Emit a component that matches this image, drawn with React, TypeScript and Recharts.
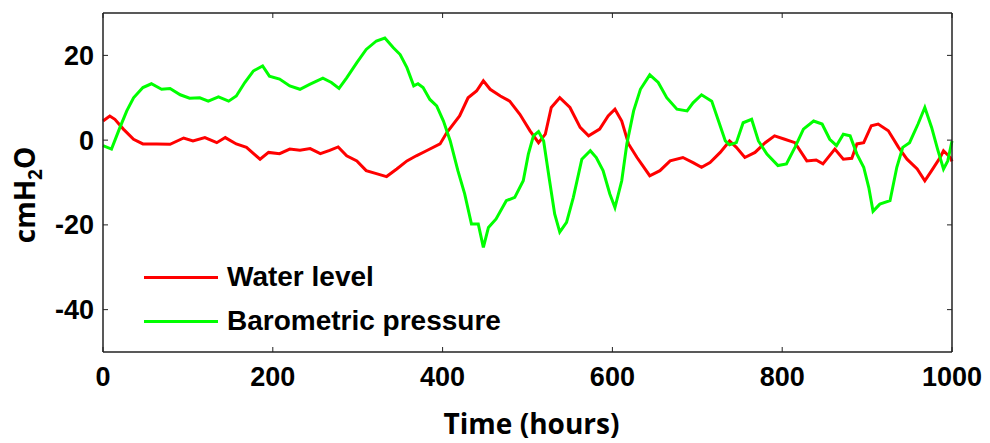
import React from 'react';
import { LineChart, Line, XAxis, YAxis, Legend } from 'recharts';

// hours / values
const waterHours = [
  0, 8, 14, 24, 36, 47, 63, 79, 95, 106, 120, 134, 144, 157, 169, 185, 195, 208, 220, 232,
  244, 256, 267, 277, 287, 299, 310, 322, 334, 346, 358, 369, 381, 397, 405, 420, 430, 440,
  448, 456, 468, 479, 491, 503, 513, 521, 528, 538, 550, 562, 572, 585, 595, 603, 611, 619,
  629, 644, 656, 668, 683, 695, 705, 715, 727, 738, 746, 756, 768, 780, 791, 803, 815, 829,
  840, 848, 862, 872, 882, 888, 896, 905, 913, 925, 937, 947, 959, 968, 976, 986, 990, 998, 1000,
];
const waterLevel = [
  4.5, 5.7, 4.9, 2.6, 0.2, -0.9, -0.9, -1.0, 0.5, -0.2, 0.6, -0.6, 0.6, -0.9, -1.7, -4.5, -2.9, -3.2, -2.1, -2.4,
  -2.0, -3.2, -2.4, -1.6, -3.7, -4.9, -7.2, -7.9, -8.6, -6.8, -4.9, -3.7, -2.5, -0.9, 1.8, 5.7, 10, 11.6,
  14, 12, 10.4, 9.2, 6.1, 2.2, -0.6, 1.4, 7.7, 10, 7.7, 3, 1, 2.6, 5.7, 7.3, 4.5, -0.9,
  -4.1, -8.4, -7.2, -4.9, -4.1, -5.3, -6.4, -5.3, -2.9, -0.2, -1.7, -4.1, -2.9, -0.6, 1, 0.2, -0.6, -4.9,
  -4.7, -5.6, -2.1, -4.5, -4.3, -0.9, -0.6, 3.4, 3.8, 2.2, -1.7, -4.5, -6.8, -9.6, -7.2, -4.1, -2.5, -4.1, -5,
];

const baroHours = [
  0, 10, 20, 28, 36, 47, 57, 69, 79, 91, 102, 114, 124, 136, 148, 157, 167, 177, 188, 196,
  208, 220, 232, 244, 259, 269, 278, 287, 299, 310, 322, 332, 342, 350, 358, 366, 371, 377,
  385, 393, 401, 409, 418, 426, 434, 442, 448, 454, 463, 475, 485, 495, 501, 507, 513, 519,
  526, 532, 538, 546, 554, 564, 574, 581, 589, 597, 603, 611, 617, 625, 633, 644, 654, 664,
  676, 688, 695, 705, 717, 725, 733, 738, 746, 754, 764, 772, 782, 795, 805, 815, 825, 837,
  847, 856, 864, 872, 880, 888, 896, 902, 907, 915, 927, 935, 942, 950, 960, 968, 976, 983,
  990, 995, 1000,
];
const baroPressure = [
  -1.3, -2.1, 3, 6.9, 10, 12.4, 13.3, 12, 12.2, 10.7, 9.9, 10, 9.2, 10.2, 9.2, 10.4, 13.6, 16.3, 17.5, 15.1,
  14.4, 12.8, 12, 13.2, 14.6, 13.6, 12.2, 14.7, 18.3, 21.4, 23.4, 24.1, 21.8, 20.2, 17.1, 12.8, 13.3, 12.4,
  9.6, 8.1, 4.5, -0.2, -7.2, -12.7, -19.8, -19.8, -25.3, -20.6, -18.6, -14.3, -13.5, -9.6, -3.3, 1, 2, -0.2,
  -9.6, -17.4, -21.7, -19.4, -13.5, -4.5, -2.5, -4.1, -7.2, -12.7, -15.9, -9.6, -0.9, 6.9, 12, 15.4, 13.6, 10,
  7.3, 6.9, 8.8, 10.7, 9.2, 4.5, -0.2, -1.1, -0.6, 4.1, 4.9, -0.2, -3.3, -6, -5.6, -1.7, 2.6, 4.5,
  3.8, 0.2, -1.3, 1.4, 1, -3.3, -6.4, -11.2, -16.8, -15.1, -14.3, -6.4, -1.7, -0.6, 3.8, 7.7, 3, -2.1,
  -6.8, -4.9, -0.2,
];

const seriesNames = ['Water level', 'Barometric pressure'];
const xTicks = [0, 200, 400, 600, 800, 1000];
const yTicks = [-40, -20, 0, 20];

const waterData = waterHours.map((t, i) => ({ t, v: waterLevel[i] }));
const baroData = baroHours.map((t, i) => ({ t, v: baroPressure[i] }));

const tickFont = { fontFamily: 'Liberation Sans, Arial, sans-serif', fontSize: 27, fontWeight: 'bold', fill: '#000' };
const titleFont = 'Open Sans, sans-serif';
const axisStroke = '#222';
const noTick = () => <g />;

const LegendBox = ({ payload }: any) => {
  const items = [...(payload || [])].sort(
    (a: any, b: any) => seriesNames.indexOf(a.value) - seriesNames.indexOf(b.value)
  );
  return (
    <div style={{ fontFamily: 'Liberation Sans, Arial, sans-serif', fontWeight: 'bold', fontSize: 28, color: '#000' }}>
      {items.map((p: any) => (
        <div key={p.value} style={{ display: 'flex', alignItems: 'center', height: 44 }}>
          <span style={{ display: 'inline-block', width: 74, height: 3, background: p.color, marginRight: 9 }} />
          <span>{p.value}</span>
        </div>
      ))}
    </div>
  );
};

const YTitle = () => (
  <text
    x={35}
    y={195}
    transform="rotate(-90, 35, 195)"
    textAnchor="middle"
    fontFamily={titleFont}
    fontWeight="bold"
    fontSize={28}
    fill="#000"
  >
    cmH<tspan dy={7} fontSize={19}>2</tspan><tspan dy={-7}>O</tspan>
  </text>
);

export default function App() {
  return (
    <div style={{ position: 'absolute', left: 0, top: 0, width: 990, height: 443, background: '#fff' }}>
      <LineChart width={990} height={443} margin={{ top: 8, right: 33, bottom: 0, left: 0 }}>
        <XAxis
          xAxisId="bottom"
          dataKey="t"
          type="number"
          domain={[0, 1000]}
          ticks={xTicks}
          height={91}
          tick={tickFont}
          tickSize={-5}
          tickMargin={20}
          stroke={axisStroke}
          axisLine={{ strokeWidth: 1.5 }}
          label={{ value: 'Time (hours)', position: 'insideBottom', offset: 9, dx: 4, fontFamily: titleFont, fontWeight: 'bold', fontSize: 28, fill: '#000' }}
        />
        <XAxis
          xAxisId="top"
          orientation="top"
          dataKey="t"
          type="number"
          domain={[0, 1000]}
          ticks={xTicks}
          height={5}
          tick={noTick}
          tickSize={-5}
          stroke={axisStroke}
          axisLine={{ strokeWidth: 1.5 }}
        />
        <YAxis
          yAxisId="left"
          type="number"
          domain={[-50, 30]}
          ticks={yTicks}
          width={103}
          tick={tickFont}
          tickSize={-5}
          tickMargin={14}
          stroke={axisStroke}
          axisLine={{ strokeWidth: 1.5 }}
          label={{ content: () => <YTitle /> }}
        />
        <YAxis
          yAxisId="right"
          orientation="right"
          type="number"
          domain={[-50, 30]}
          ticks={yTicks}
          width={5}
          tick={noTick}
          tickSize={-5}
          stroke={axisStroke}
          axisLine={{ strokeWidth: 1.5 }}
        />
        <Legend
          layout="vertical"
          align="center"
          verticalAlign="middle"
          content={<LegendBox />}
          wrapperStyle={{ left: 144, top: 255, width: 400, height: 90 }}
        />
        <Line
          xAxisId="bottom"
          yAxisId="left"
          data={waterData}
          dataKey="v"
          name="Water level"
          type="linear"
          stroke="#ff0000"
          strokeWidth={3}
          dot={false}
          isAnimationActive={false}
        />
        <Line
          xAxisId="top"
          yAxisId="right"
          data={baroData}
          dataKey="v"
          name="Barometric pressure"
          type="linear"
          stroke="#00ff00"
          strokeWidth={3}
          dot={false}
          isAnimationActive={false}
        />
      </LineChart>
    </div>
  );
}
